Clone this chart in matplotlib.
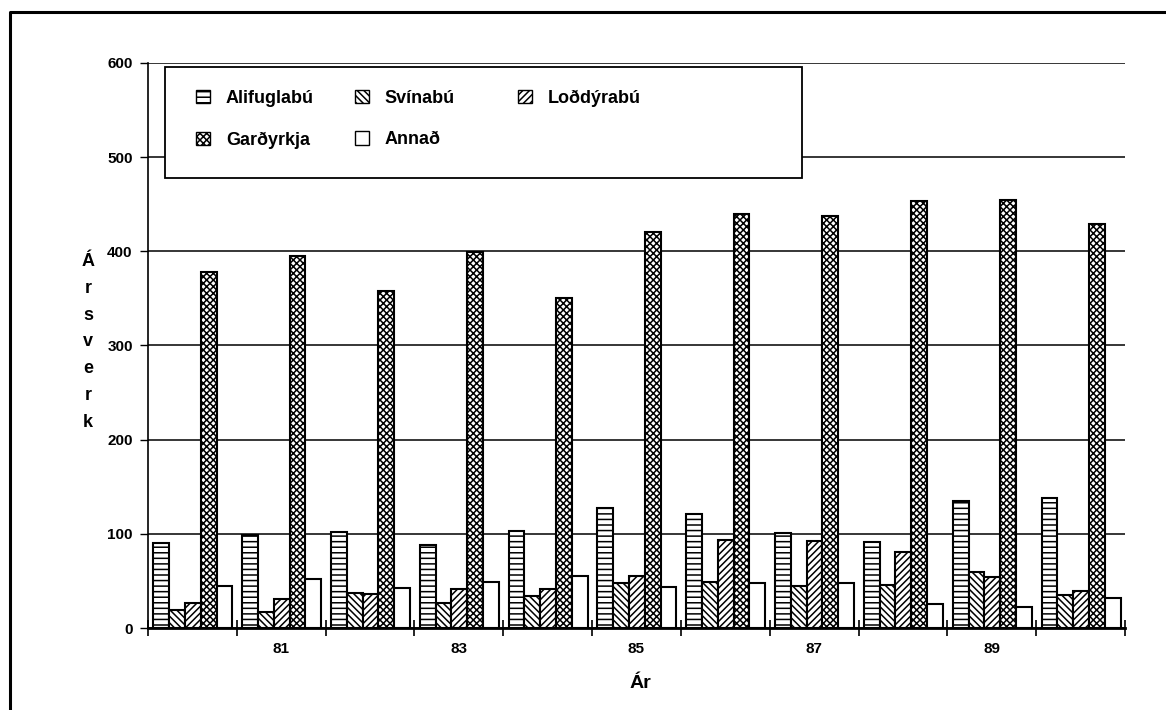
import matplotlib
matplotlib.use("Agg")
import matplotlib.pyplot as plt
import numpy as np
from matplotlib.patches import Patch
from matplotlib.lines import Line2D

plt.rcParams['font.family'] = ['Liberation Sans', 'DejaVu Sans']
plt.rcParams['font.weight'] = 'bold'
plt.rcParams['hatch.linewidth'] = 1.1

years = ["80", "81", "82", "83", "84", "85", "86", "87", "88", "89", "90"]
series_names = ["Alifuglabú", "Svínabú", "Loðdýrabú", "Garðyrkja", "Annað"]
alifuglabu = [90, 99, 102, 88, 103, 127, 121, 101, 91, 135, 138]
svinabu = [19, 17, 37, 27, 34, 48, 49, 45, 46, 60, 35]
loddyrabu = [27, 31, 36, 41, 41, 55, 93, 92, 81, 54, 39]
gardyrkja = [378, 395, 358, 399, 350, 421, 440, 438, 453, 454, 429]
annad = [45, 52, 43, 49, 55, 44, 48, 48, 26, 22, 32]
yticks = [0, 100, 200, 300, 400, 500, 600]
labelled_years = ["81", "83", "85", "87", "89"]

series = [alifuglabu, svinabu, loddyrabu, gardyrkja, annad]
hatches = ['---', '\\\\\\\\\\', '/////', 'xxxxx', '']

W, H = 1166, 710
fig = plt.figure(figsize=(W / 100, H / 100), dpi=100)
ax = fig.add_axes([148 / W, 1 - 628 / H, (1125 - 148) / W, (628 - 63) / H])

x = np.arange(len(years))
bw = 0.178
for i, (vals, h) in enumerate(zip(series, hatches)):
    ax.bar(x - 0.5 + 0.06 + bw / 2 + i * bw, vals, width=bw, color='white',
           edgecolor='black', linewidth=1.5, hatch=h, zorder=3,
           label=series_names[i])

ax.set_xlim(-0.5, len(years) - 0.5)
ax.set_ylim(0, 600)
ax.set_yticks(yticks)
ax.set_yticklabels([str(v) for v in yticks], fontsize=11, fontweight='bold')
ax.yaxis.grid(True, color='black', linewidth=1.1, zorder=0)
ax.set_axisbelow(True)

ax.set_xticks(np.arange(-0.5, len(years), 1.0))
ax.set_xticklabels([])
lab_pos = [years.index(y) for y in labelled_years]
ax.set_xticks(lab_pos, minor=True)
ax.set_xticklabels(labelled_years, minor=True, fontsize=11, fontweight='bold')
ax.tick_params(axis='x', which='major', direction='inout', length=12, width=1.2)
ax.tick_params(axis='x', which='minor', length=0, pad=10)
ax.tick_params(axis='y', direction='out', length=6, width=1.0, pad=5)

for s in ['top', 'right']:
    ax.spines[s].set_visible(False)
ax.spines['bottom'].set_linewidth(2.0)
ax.spines['left'].set_linewidth(1.2)

fig.text(640 / W, 1 - 683 / H, "Ár", ha='center', va='center', fontsize=14, fontweight='bold')
fig.text(88 / W, 1 - 342 / H, "\n".join("Ársverk"), ha='center', va='center',
         fontsize=13, fontweight='bold', linespacing=1.75)

# legend frame
box = plt.Rectangle((165 / W, 1 - 178 / H), (802 - 165) / W, (178 - 67) / H,
                    transform=fig.transFigure, facecolor='white', edgecolor='black',
                    linewidth=1.3, zorder=4)
fig.add_artist(box)

# legend entries: three columns
handles = [Patch(facecolor='white', edgecolor='black', hatch=h, linewidth=1.0) for h in hatches]
columns = [[0, 3], [1, 4], [2]]
col_x = [196, 355, 518]
for cols, cx in zip(columns, col_x):
    leg = fig.legend([handles[i] for i in cols], [series_names[i] for i in cols],
                     ncol=1, loc='upper left', bbox_to_anchor=(cx / W, 1 - 90 / H),
                     frameon=False, handlelength=0.75, handleheight=0.75,
                     handletextpad=0.9, labelspacing=1.35, borderpad=0,
                     borderaxespad=0, prop={'weight': 'bold', 'size': 13})
    leg.set_zorder(5)

# outer frame
fig.add_artist(Line2D([10 / W, 10 / W, 1.0], [0.0, 1 - 12 / H, 1 - 12 / H],
                      transform=fig.transFigure, color='black', linewidth=2.2))

fig.savefig("out.png", dpi=100)
